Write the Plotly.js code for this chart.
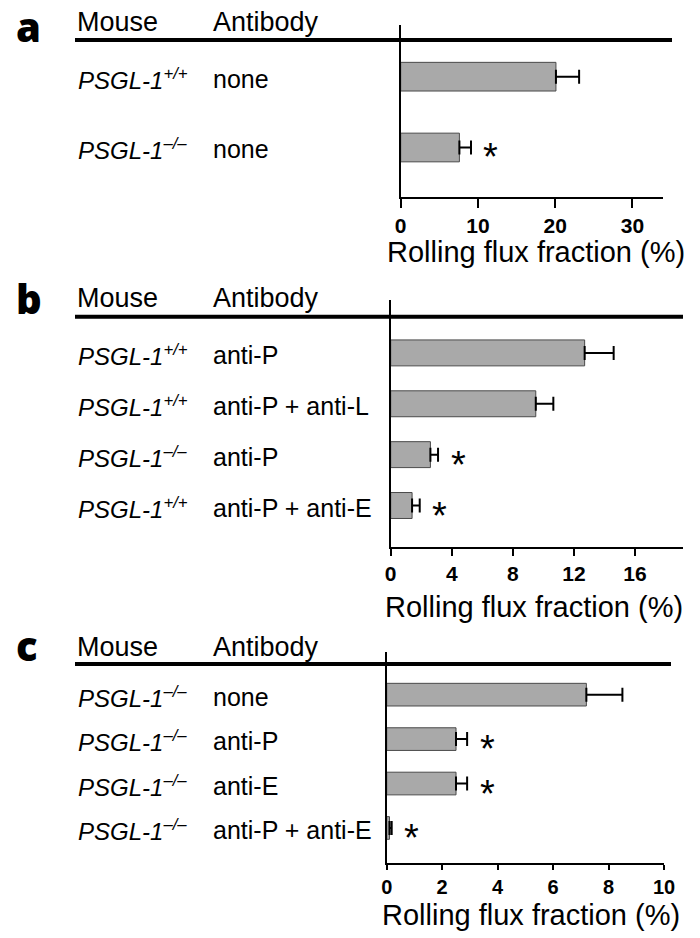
<!DOCTYPE html>
<html>
<head>
<meta charset="utf-8">
<script src="https://cdn.plot.ly/plotly-3.0.1.min.js"></script>
<style>
  body { margin: 0; background: #fff; }
  #chart { width: 700px; height: 938px; }
</style>
</head>
<body>
<div id="chart"></div>
<script>
// panel a
var aMouse = ['+/+', '\u2013/\u2013'];
var aAntibody = ['none', 'none'];
var aMean = [20.1, 7.6];
var aSem = [3.0, 1.5];
var aSig = [false, true];

// panel b
var bMouse = ['+/+', '+/+', '\u2013/\u2013', '+/+'];
var bAntibody = ['anti-P', 'anti-P + anti-L', 'anti-P', 'anti-P + anti-E'];
var bMean = [12.7, 9.5, 2.6, 1.4];
var bSem = [1.9, 1.15, 0.5, 0.5];
var bSig = [false, false, true, true];

// panel c
var cMouse = ['\u2013/\u2013', '\u2013/\u2013', '\u2013/\u2013', '\u2013/\u2013'];
var cAntibody = ['none', 'anti-P', 'anti-E', 'anti-P + anti-E'];
var cMean = [7.2, 2.5, 2.5, 0.1];
var cSem = [1.3, 0.4, 0.4, 0.08];
var cSig = [false, true, true, true];

var xTitle = 'Rolling flux fraction (%)';

var W = 700, H = 938;
var FONT = 'Liberation Sans, Arial, Helvetica, sans-serif';

function px(x) { return x / W; }
function py(y) { return 1 - y / H; }

var traces = [];
var annotations = [];
var shapes = [];
var layout = {
  width: W,
  height: H,
  margin: { l: 0, r: 0, t: 0, b: 0 },
  paper_bgcolor: '#fff',
  plot_bgcolor: '#fff',
  showlegend: false,
  font: { family: FONT, color: '#000' }
};

// one panel = one pair of axes
function buildPanel(opt) {
  var keys = opt.mouse.map((m, i) => m + ' ' + opt.antibody[i] + ' ' + i);
  var n = keys.length;
  var xa = 'xaxis' + (opt.idx === 1 ? '' : opt.idx);
  var ya = 'yaxis' + (opt.idx === 1 ? '' : opt.idx);
  var xr = 'x' + (opt.idx === 1 ? '' : opt.idx);
  var yr = 'y' + (opt.idx === 1 ? '' : opt.idx);

  traces.push({
    type: 'bar',
    orientation: 'h',
    x: opt.mean,
    y: keys,
    xaxis: xr,
    yaxis: yr,
    width: opt.barWidth,
    marker: { color: '#a9a9a9', line: { color: '#4a4a4a', width: 1 } },
    error_x: {
      type: 'data',
      symmetric: false,
      array: opt.sem,
      arrayminus: opt.sem.map(() => 0),
      color: '#000',
      thickness: 2,
      width: 7
    },
    hoverinfo: 'none'
  });

  layout[xa] = {
    domain: [px(opt.x0), px(opt.x1)],
    anchor: yr,
    range: opt.xRange,
    dtick: opt.dtick,
    tick0: 0,
    showgrid: false,
    zeroline: false,
    showline: true,
    linecolor: '#000',
    linewidth: 2,
    ticks: 'outside',
    ticklen: opt.ticklen,
    tickwidth: 2,
    tickcolor: '#000',
    tickfont: { family: FONT, size: opt.tickSize, weight: 'bold', color: '#000' }
  };
  layout[ya] = {
    domain: [py(opt.y1), py(opt.y0)],
    anchor: xr,
    type: 'category',
    range: [n - 1 + opt.padBottom, -opt.padTop],
    showticklabels: false,
    ticks: '',
    showgrid: false,
    zeroline: false,
    showline: true,
    linecolor: '#000',
    linewidth: 2
  };

  // axis title
  annotations.push({
    xref: 'paper', yref: 'paper', x: px(opt.titleX), y: py(opt.titleY),
    xanchor: 'center', yanchor: 'middle', showarrow: false,
    text: xTitle, font: { family: FONT, size: 29, color: '#000' }
  });

  // panel letter and column headers
  annotations.push({
    xref: 'paper', yref: 'paper', x: px(14), y: py(opt.headY + opt.letterShift),
    xanchor: 'left', yanchor: 'middle', showarrow: false,
    text: opt.letter,
    font: { family: 'Open Sans, DejaVu Sans, sans-serif', size: 40, weight: 800, color: '#000' }
  });
  annotations.push({
    xref: 'paper', yref: 'paper', x: px(75), y: py(opt.headY),
    xanchor: 'left', yanchor: 'middle', showarrow: false,
    text: 'Mouse', font: { family: FONT, size: 27, color: '#000' }
  });
  annotations.push({
    xref: 'paper', yref: 'paper', x: px(211), y: py(opt.headY),
    xanchor: 'left', yanchor: 'middle', showarrow: false,
    text: 'Antibody', font: { family: FONT, size: 27, color: '#000' }
  });
  shapes.push({
    type: 'line', xref: 'paper', yref: 'paper',
    x0: px(75), x1: px(opt.lineEnd), y0: py(opt.lineY), y1: py(opt.lineY),
    line: { color: '#000', width: 4 }
  });

  // row labels and significance marks
  keys.forEach((k, i) => {
    annotations.push({
      xref: 'paper', yref: yr, x: px(76), y: k, yshift: -2,
      xanchor: 'left', yanchor: 'middle', showarrow: false,
      text: '<i>PSGL-1<sup>' + opt.mouse[i] + '</sup></i>',
      font: { family: FONT, size: 24, color: '#000' }
    });
    annotations.push({
      xref: 'paper', yref: yr, x: px(211), y: k, yshift: -2,
      xanchor: 'left', yanchor: 'middle', showarrow: false,
      text: opt.antibody[i],
      font: { family: FONT, size: 25, color: '#000' }
    });
    if (opt.sig[i]) {
      annotations.push({
        xref: xr, yref: yr, x: opt.mean[i] + opt.sem[i], y: k,
        xshift: 20, yshift: -10,
        xanchor: 'center', yanchor: 'middle', showarrow: false,
        text: '*',
        font: { family: FONT, size: 38, color: '#000' }
      });
    }
  });
}

buildPanel({
  idx: 1, letter: 'a', mouse: aMouse, antibody: aAntibody, mean: aMean, sem: aSem, sig: aSig,
  x0: 400.7, x1: 663.3, y0: 25, y1: 196.7, xRange: [0, 34], dtick: 10,
  padTop: 0.73, padBottom: 0.695, barWidth: 0.405, ticklen: 9, tickSize: 21,
  headY: 22, letterShift: 4, lineY: 40, lineEnd: 672, titleX: 536, titleY: 252
});
buildPanel({
  idx: 2, letter: 'b', mouse: bMouse, antibody: bAntibody, mean: bMean, sem: bSem, sig: bSig,
  x0: 390.7, x1: 683.3, y0: 300, y1: 546.7, xRange: [0, 19.16], dtick: 4,
  padTop: 1.04, padBottom: 0.81, barWidth: 0.51, ticklen: 7, tickSize: 21,
  headY: 298, letterShift: 0, lineY: 316.7, lineEnd: 683, titleX: 534, titleY: 607
});
buildPanel({
  idx: 3, letter: 'c', mouse: cMouse, antibody: cAntibody, mean: cMean, sem: cSem, sig: cSig,
  x0: 386.7, x1: 664, y0: 652, y1: 863.3, xRange: [0, 10], dtick: 2,
  padTop: 0.96, padBottom: 0.795, barWidth: 0.51, ticklen: 5, tickSize: 20,
  headY: 647, letterShift: -2, lineY: 664, lineEnd: 671, titleX: 531, titleY: 915
});

layout.annotations = annotations;
layout.shapes = shapes;

Plotly.newPlot('chart', traces, layout, { staticPlot: true, displayModeBar: false });
</script>
</body>
</html>
